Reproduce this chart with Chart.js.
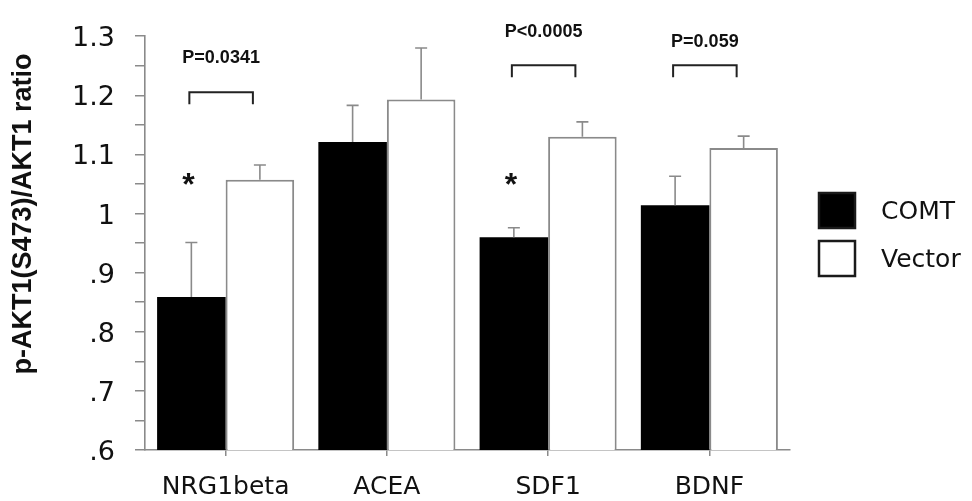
<!DOCTYPE html>
<html>
<head>
<meta charset="utf-8">
<title>p-AKT1(S473)/AKT1 ratio</title>
<script src="https://cdn.jsdelivr.net/npm/chart.js@4/dist/chart.umd.min.js"></script>
<style>
  html, body { margin: 0; padding: 0; background: #fff; }
  #wrap { position: relative; width: 972px; height: 501px; }
</style>
</head>
<body>
<div id="wrap"><canvas id="akt"></canvas></div>
<script>
/* ---------- data ---------- */
var categories  = ['NRG1beta', 'ACEA', 'SDF1', 'BDNF'];
var comtMeans   = [0.859, 1.121, 0.960, 1.014];
var comtSem     = [0.092, 0.062, 0.016, 0.049];
var vectorMeans = [1.057, 1.193, 1.130, 1.111];
var vectorSem   = [0.025, 0.087, 0.025, 0.020];
var seriesNames = ['COMT', 'Vector'];

/* significance annotations, per category */
var pLabels   = ['P=0.0341', '', 'P<0.0005', 'P=0.059'];
var pLabelAt  = [1.254, null, 1.299, 1.281];   /* text baseline, in ratio units */
var bracketAt = [1.205, null, 1.251, 1.251];   /* bracket top, in ratio units */
var starred   = [true, false, true, false];
var starAt    = 1.04;

var yMin = 0.6, yMax = 1.3, yStep = 0.05;

var REG = "'DejaVu Sans', 'Liberation Sans', sans-serif";
var BOLD = "'Liberation Sans', Arial, sans-serif";
var GREY = '#8a8a8a';
var INK = '#111';

function tickLabel(v) {
  var hundredths = Math.round(v * 100);
  if (hundredths % 10 !== 0) return '';          /* minor tick, no label */
  var s = String(hundredths / 100);
  return s.charAt(0) === '0' ? s.slice(1) : s;   /* .6 .7 … 1 1.1 */
}

/* ---------- error bars (upward only), brackets, P values, asterisks ---------- */
var annotate = {
  id: 'annotate',
  afterDatasetsDraw: function (chart) {
    var ctx = chart.ctx, y = chart.scales.y;
    var sems = [comtSem, vectorSem];
    ctx.save();
    ctx.strokeStyle = GREY;
    ctx.lineWidth = 1.6;
    chart.data.datasets.forEach(function (ds, di) {
      chart.getDatasetMeta(di).data.forEach(function (bar, i) {
        var top = y.getPixelForValue(ds.data[i] + sems[di][i]);
        ctx.beginPath();
        ctx.moveTo(bar.x, bar.y);
        ctx.lineTo(bar.x, top);
        ctx.moveTo(bar.x - 6, top);
        ctx.lineTo(bar.x + 6, top);
        ctx.stroke();
      });
    });

    var comt = chart.getDatasetMeta(0).data, vec = chart.getDatasetMeta(1).data;
    ctx.strokeStyle = '#222';
    ctx.lineWidth = 2;
    ctx.fillStyle = INK;
    categories.forEach(function (c, i) {
      if (bracketAt[i] !== null) {
        var x1 = comt[i].x - 2, x2 = vec[i].x - 7, by = y.getPixelForValue(bracketAt[i]);
        ctx.beginPath();
        ctx.moveTo(x1, by + 12);
        ctx.lineTo(x1, by);
        ctx.lineTo(x2, by);
        ctx.lineTo(x2, by + 12);
        ctx.stroke();
        ctx.font = 'bold 18px ' + BOLD;
        ctx.textAlign = 'center';
        ctx.textBaseline = 'alphabetic';
        ctx.fillText(pLabels[i], (x1 + x2) / 2, y.getPixelForValue(pLabelAt[i]));
      }
      if (starred[i]) {
        ctx.font = 'bold 32px ' + BOLD;
        ctx.textAlign = 'center';
        ctx.textBaseline = 'alphabetic';
        ctx.fillText('*', comt[i].x - 3, y.getPixelForValue(starAt) + 5);
      }
    });
    ctx.restore();
  },
  afterDraw: function (chart) {
    var ctx = chart.ctx;
    ctx.save();
    /* y axis title, placed off-centre like the original */
    ctx.translate(31, 214);
    ctx.rotate(-Math.PI / 2);
    ctx.font = 'bold 27px ' + BOLD;
    ctx.fillStyle = INK;
    ctx.textAlign = 'center';
    ctx.textBaseline = 'alphabetic';
    ctx.fillText('p-AKT1(S473)/AKT1 ratio', 0, 0);
    ctx.restore();

    /* legend: square swatches, labels to the right */
    ctx.save();
    ctx.font = '25px ' + REG;
    ctx.textBaseline = 'middle';
    ctx.textAlign = 'left';
    chart.data.datasets.forEach(function (ds, di) {
      var bx = 819, by = 193 + di * 48;
      ctx.fillStyle = ds.backgroundColor;
      ctx.fillRect(bx, by, 36, 35);
      ctx.strokeStyle = '#1a1a1a';
      ctx.lineWidth = 2.5;
      ctx.strokeRect(bx, by, 36, 35);
      ctx.fillStyle = INK;
      ctx.fillText(ds.label, 881, by + 19);
    });
    ctx.restore();
  }
};

new Chart(document.getElementById('akt'), {
  type: 'bar',
  data: {
    labels: categories,
    datasets: [{
      label: seriesNames[0],
      data: comtMeans,
      backgroundColor: '#000',
      borderWidth: 0
    }, {
      label: seriesNames[1],
      data: vectorMeans,
      backgroundColor: '#fff',
      borderColor: GREY,
      borderWidth: 2
    }]
  },
  options: {
    responsive: true,
    maintainAspectRatio: false,
    animation: false,
    categoryPercentage: 0.85,
    barPercentage: 1.0,
    layout: { padding: { top: 20, right: 182, left: 0, bottom: 0 } },
    plugins: { legend: { display: false }, tooltip: { enabled: false } },
    scales: {
      x: {
        grid: { display: true, offset: false, drawOnChartArea: false, drawTicks: true, tickLength: 6, color: GREY, lineWidth: 1.5 },
        border: { display: true, color: GREY, width: 1.6 },
        ticks: { color: INK, font: { family: REG, size: 25 }, padding: 16, maxRotation: 0 },
        afterFit: function (s) { s.height = 51; }
      },
      y: {
        min: yMin,
        max: yMax,
        grid: { display: true, drawOnChartArea: false, drawTicks: true, tickLength: 10, color: GREY, lineWidth: 1.5 },
        border: { display: true, color: GREY, width: 1.6 },
        ticks: {
          stepSize: yStep,
          autoSkip: false,
          color: INK,
          font: { family: REG, size: 27 },
          padding: 20,
          labelOffset: 3,
          callback: function (v) { return tickLabel(v); }
        },
        afterFit: function (s) { s.width = 145; }
      }
    }
  },
  plugins: [annotate]
});
</script>
</body>
</html>
